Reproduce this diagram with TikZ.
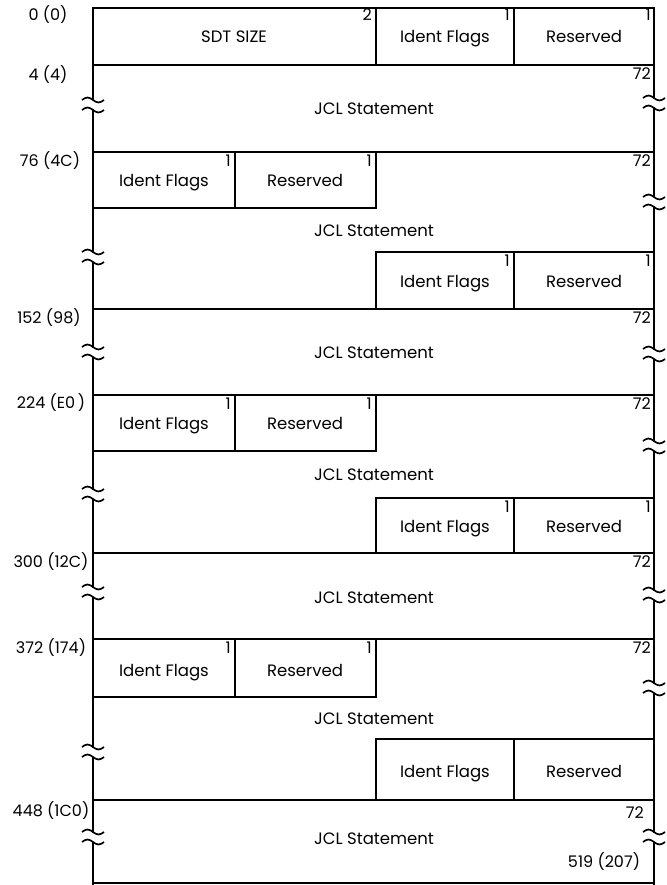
\documentclass[tikz,border=0pt]{standalone}
\usepackage{fontspec}
\setmainfont{Poppins}
\usetikzlibrary{positioning}
\tikzset{
  frame/.style={line width=2.6pt},
  rule/.style={line width=1.4pt},
  brk/.style={line width=1.7pt},
  field/.style={font=\fontsize{16.5}{19}\selectfont, inner sep=0pt, text height=1.55ex, text depth=.4ex, yshift=-3pt},
  num/.style={font=\fontsize{16}{18}\selectfont, anchor=north east, inner sep=1pt},
  addr/.style={font=\fontsize{16}{18}\selectfont, inner sep=0pt}
}
% break mark on a border line
\newcommand{\brkmark}[2]{%
  \fill[white] ({#1-3},{#2-4.5}) rectangle ({#1+3},{#2+4.5});
  \draw[brk] ({#1-11},{#2-5}) sin ({#1-5.5},{#2-7.5}) cos (#1,{#2-5}) sin ({#1+5.5},{#2-2.5}) cos ({#1+11},{#2-5});
  \draw[brk] ({#1-11},{#2+5}) sin ({#1-5.5},{#2+2.5}) cos (#1,{#2+5}) sin ({#1+5.5},{#2+7.5}) cos ({#1+11},{#2+5});
}

\begin{document}
\begin{tikzpicture}[x=1pt, y=-1pt]
  \useasboundingbox (0,0) rectangle (666,885);

  % outer frame
  \draw[frame] (93,885) -- (93,8) -- (654,8) -- (654,885);
  \draw[rule] (93,883) -- (654,883);

  % full-width rules
  \draw[rule] (93,65) -- (654,65);
  \draw[rule] (93,152) -- (654,152);
  \draw[rule] (93,309) -- (654,309);
  \draw[rule] (93,395) -- (654,395);
  \draw[rule] (93,553) -- (654,553);
  \draw[rule] (93,639) -- (654,639);
  \draw[rule] (93,800) -- (654,800);

  % header row
  \draw[rule] (376,8) -- (376,65);
  \draw[rule] (514,8) -- (514,65);

  % left flag boxes
  \draw[rule] (93,208) -- (376,208) -- (376,152);
  \draw[rule] (235,152) -- (235,208);
  \draw[rule] (93,451) -- (376,451) -- (376,395);
  \draw[rule] (235,395) -- (235,451);
  \draw[rule] (93,697) -- (376,697) -- (376,639);
  \draw[rule] (235,639) -- (235,697);

  % right flag boxes
  \draw[rule] (376,309) -- (376,252) -- (654,252);
  \draw[rule] (514,252) -- (514,309);
  \draw[rule] (376,553) -- (376,498) -- (654,498);
  \draw[rule] (514,498) -- (514,553);
  \draw[rule] (376,800) -- (376,739) -- (654,739);
  \draw[rule] (514,739) -- (514,800);

  % break marks
  \brkmark{93}{105}
  \brkmark{93}{257}
  \brkmark{93}{352}
  \brkmark{93}{494}
  \brkmark{93}{592}
  \brkmark{93}{752}
  \brkmark{93}{837}
  \brkmark{654}{103}
  \brkmark{654}{202}
  \brkmark{654}{354}
  \brkmark{654}{446}
  \brkmark{654}{595}
  \brkmark{654}{688}
  \brkmark{654}{837}

  % header fields
  \node[field] (sdt) at (234,36) {SDT SIZE};
  \node[field] (idf0) at (445,36) {Ident Flags};
  \node[field] (res0) at (584,36) {Reserved};
  \node[num] (sdtlen) at (373,8) {2};
  \node[num] (idf0len) at (511,8) {1};
  \node[num] (res0len) at (652,8) {1};

  % JCL statements
  \node[field] (jcl1) at (374,108) {JCL Statement};
  \node[field] (jcl2) at (374,230) {JCL Statement};
  \node[field] (jcl3) at (374,352) {JCL Statement};
  \node[field] (jcl4) at (374,474) {JCL Statement};
  \node[field] (jcl5) at (374,597) {JCL Statement};
  \node[field] (jcl6) at (374,718) {JCL Statement};
  \node[field] (jcl7) at (374,838) {JCL Statement};
  \node[num] (jcl1len) at (652,67) {72};
  \node[num] (jcl2len) at (652,154) {72};
  \node[num] (jcl3len) at (652,311) {72};
  \node[num] (jcl4len) at (652,397) {72};
  \node[num] (jcl5len) at (652,555) {72};
  \node[num] (jcl6len) at (652,641) {72};
  \node[num] (jcl7len) at (645,806) {72};

  % flag fields, left
  \node[field] (idf1) at (164,180) {Ident Flags};
  \node[field] (res1) at (305,180) {Reserved};
  \node[num] (idf1len) at (232,154) {1};
  \node[num] (res1len) at (373,154) {1};
  \node[field] (idf3) at (164,423) {Ident Flags};
  \node[field] (res3) at (305,423) {Reserved};
  \node[num] (idf3len) at (232,397) {1};
  \node[num] (res3len) at (373,397) {1};
  \node[field] (idf5) at (164,670) {Ident Flags};
  \node[field] (res5) at (305,670) {Reserved};
  \node[num] (idf5len) at (232,641) {1};
  \node[num] (res5len) at (373,641) {1};

  % flag fields, right
  \node[field] (idf2) at (445,281) {Ident Flags};
  \node[field] (res2) at (584,281) {Reserved};
  \node[num] (idf2len) at (511,254) {1};
  \node[num] (res2len) at (652,254) {1};
  \node[field] (idf4) at (445,526) {Ident Flags};
  \node[field] (res4) at (584,526) {Reserved};
  \node[num] (idf4len) at (511,500) {1};
  \node[num] (res4len) at (652,500) {1};
  \node[field] (idf6) at (445,771) {Ident Flags};
  \node[field] (res6) at (584,771) {Reserved};

  % offsets
  \node[addr] (off0) at (48,15) {0 (0)};
  \node[addr] (off4) at (48,75) {4 (4)};
  \node[addr] (off76) at (50,161) {76 (4C)};
  \node[addr] (off152) at (49,318) {152 (98)};
  \node[addr] (off224) at (51,403) {224 (E0\,)};
  \node[addr] (off300) at (51,562) {300 (12C)};
  \node[addr] (off372) at (51,648) {372 (174)};
  \node[addr] (off448) at (51,811) {448 (1C0)};
  \node[addr] (offend) at (604,862) {519 (207)};
\end{tikzpicture}
\end{document}
